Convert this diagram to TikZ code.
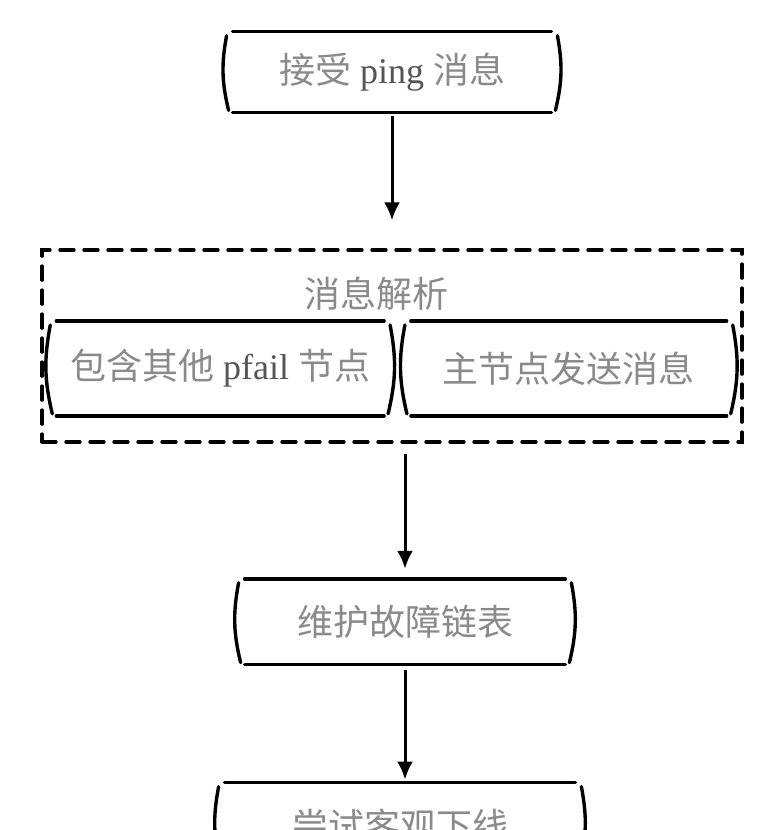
\documentclass[tikz,border=0pt]{standalone}
\usepackage{fontspec}
\setmainfont{Liberation Serif}
\newfontfamily\cjk{Noto Sans CJK SC}
\usetikzlibrary{arrows.meta,positioning}
\definecolor{ink}{HTML}{8A8A8A}
\definecolor{latin}{HTML}{555555}

\begin{document}
\begin{tikzpicture}[font=\fontsize{18}{22}\selectfont,
  st/.style={align=center,inner sep=0pt,text=ink,minimum height=40pt},
  lt/.style={text=latin},
  pen/.style={line width=1.7pt,line cap=round},
  arr/.style={-{Latex[length=9pt,width=8pt]},line width=1.5pt}]
\useasboundingbox (0,0) rectangle (381pt,-415pt);
\node[st,minimum width=159pt] (recv) at (196pt,-36pt) {{\cjk 接受} \textcolor{latin}{ping} {\cjk 消息}};
\node[draw,pen,dash pattern=on 7pt off 5pt,minimum width=350pt,minimum height=96pt,below=68pt of recv] (parse) {};
\node[st,minimum height=0pt,below=14pt of parse.north,xshift=-8pt] (title) {\cjk 消息解析};
\node[st,minimum width=163.5pt,minimum height=47pt,above right=14pt and 8pt of parse.south west] (pfail) {{\cjk 包含其他} \textcolor{latin}{pfail} {\cjk 节点}};
\node[st,minimum width=157.5pt,minimum height=47pt,above left=14pt and 8.5pt of parse.south east] (master) {\cjk 主节点发送消息};
\node[st,minimum width=160pt,minimum height=42.5pt,below=67.5pt of parse,xshift=6.5pt] (keep) {\cjk 维护故障链表};
\node[st,minimum width=175pt,minimum height=42.5pt,below=59pt of keep,xshift=-2.5pt] (fail) {\cjk 尝试客观下线};
% hand drawn outlines
\foreach \n in {recv,pfail,master,keep,fail} {
  \draw[pen] (\n.north west) -- (\n.north east);
  \draw[pen] (\n.south west) -- (\n.south east);
  \draw[pen] ([shift={(-3pt,-2pt)}]\n.north west) to[bend right=12] ([shift={(-2pt,1pt)}]\n.south west);
  \draw[pen] ([shift={(3pt,-2pt)}]\n.north east) to[bend left=12] ([shift={(2pt,1pt)}]\n.south east);
}
\draw[arr,shorten <=2pt,shorten >=14pt] (recv.south) -- (recv.south |- parse.north);
\draw[arr,shorten <=5pt,shorten >=5pt] (keep.north |- parse.south) -- (keep.north);
\draw[arr,shorten <=2.5pt,shorten >=1.5pt] (keep.south) -- (keep.south |- fail.north);
\end{tikzpicture}
\end{document}
